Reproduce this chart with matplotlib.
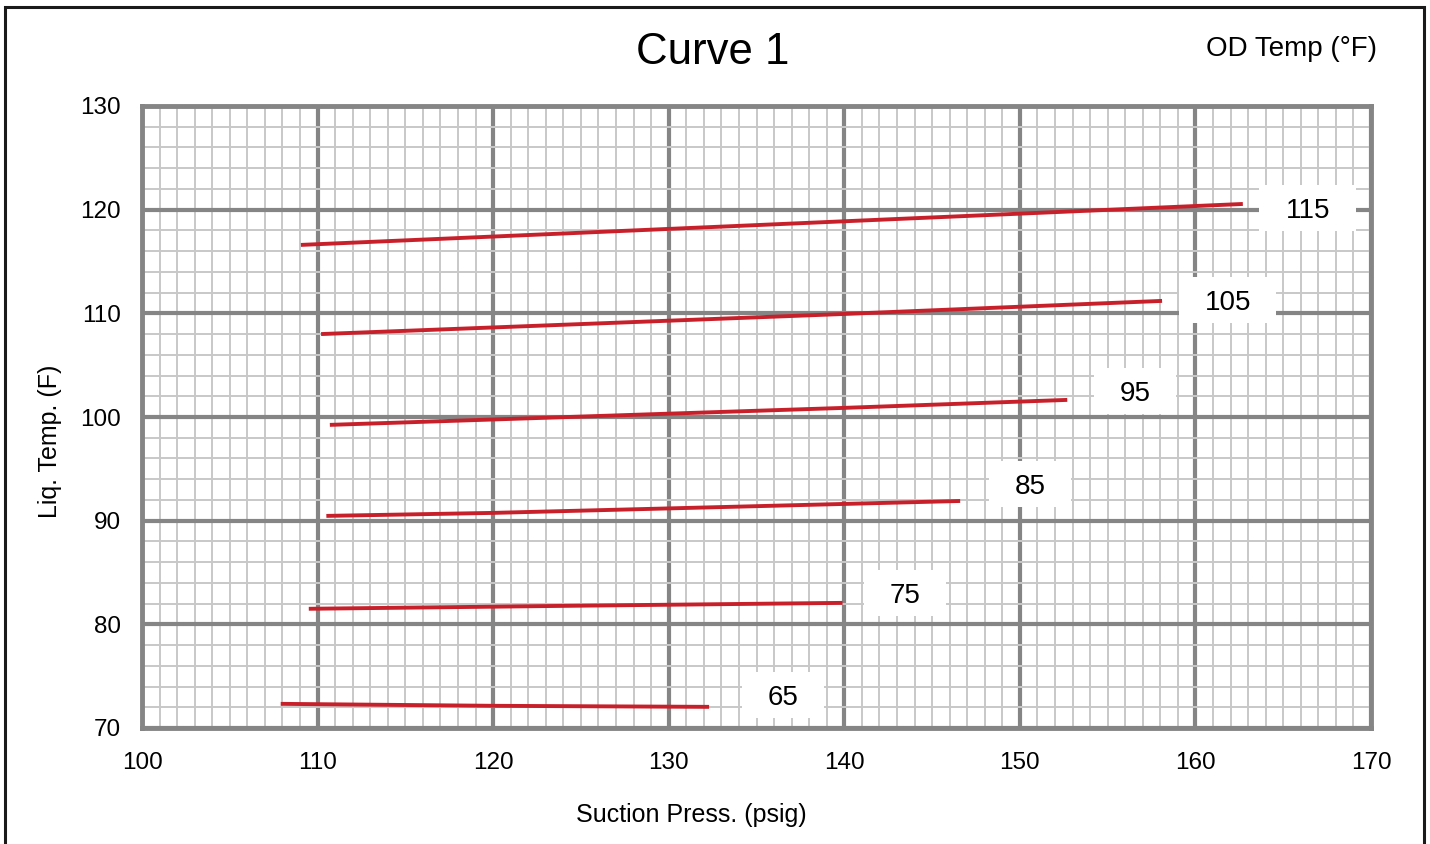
import matplotlib
matplotlib.use("Agg")
import matplotlib.pyplot as plt
from matplotlib.patches import Rectangle
from matplotlib.ticker import MultipleLocator

plt.rcParams['font.family'] = ['Liberation Sans', 'DejaVu Sans']

# OD temperature curves: suction pressure (psig) vs liquid temp (F)
od_temps = ["65", "75", "85", "95", "105", "115"]
press_65 = [107.9, 120.0, 132.3]
liq_65 = [72.33, 72.14, 72.04]
press_75 = [109.5, 125.0, 139.9]
liq_75 = [81.5, 81.8, 82.07]
press_85 = [110.5, 120.0, 146.6]
liq_85 = [90.46, 90.75, 91.9]
press_95 = [110.7, 140.0, 152.7]
liq_95 = [99.24, 100.88, 101.65]
press_105 = [110.2, 140.0, 158.1]
liq_105 = [108.0, 109.94, 111.2]
press_115 = [109.05, 140.0, 162.7]
liq_115 = [116.6, 118.88, 120.55]

# label anchor positions (data coords)
label_x = [136.5, 143.45, 150.6, 156.55, 161.85, 166.4]
label_y = [73.2, 83.0, 93.5, 102.5, 111.25, 120.15]

series = [(press_65, liq_65), (press_75, liq_75), (press_85, liq_85),
          (press_95, liq_95), (press_105, liq_105), (press_115, liq_115)]

W, H = 1430, 844
fig = plt.figure(figsize=(W / 100, H / 100), dpi=100)
ax_l, ax_r, ax_t, ax_b = 142, 1371, 106, 728
ax = fig.add_axes([ax_l / W, 1 - ax_b / H, (ax_r - ax_l) / W, (ax_b - ax_t) / H])

ax.set_xlim(100, 170)
ax.set_ylim(70, 130)
ax.xaxis.set_major_locator(MultipleLocator(10))
ax.yaxis.set_major_locator(MultipleLocator(10))
ax.xaxis.set_minor_locator(MultipleLocator(1))
ax.yaxis.set_minor_locator(MultipleLocator(2))
ax.grid(which='minor', color='#c8c8c8', linewidth=1.4, zorder=0)
ax.grid(which='major', color='#858585', linewidth=3.0, zorder=1)
ax.set_axisbelow(True)
for s in ax.spines.values():
    s.set_color('#858585')
    s.set_linewidth(3.5)
ax.tick_params(which='both', length=0)
ax.tick_params(axis='x', pad=17, labelsize=17.5)
ax.tick_params(axis='y', pad=15, labelsize=17.5)

for (px, ly) in series:
    ax.plot(px, ly, color='#c8202a', linewidth=2.8, solid_capstyle='butt', zorder=3)

xs = (ax_r - ax_l) / 70.0
ys = (ax_b - ax_t) / 60.0
for t, lx, lyy in zip(od_temps, label_x, label_y):
    bw = (52 + 15 * len(t)) / xs
    bh = 46 / ys
    ax.add_patch(Rectangle((lx - bw / 2, lyy - bh / 2), bw, bh, facecolor='white',
                           edgecolor='none', zorder=4))
    ax.text(lx, lyy, t, fontsize=20, ha='center', va='center_baseline', zorder=5)

fig.text(691 / W, 1 - 815 / H, "Suction Press. (psig)", fontsize=18, ha='center', va='center')
fig.text(50 / W, 1 - 441 / H, "Liq. Temp. (F)", fontsize=18, ha='center', va='center',
         rotation=90)

fig.text(713 / W, 1 - 52 / H, "Curve 1", fontsize=31.5, ha='center', va='center')
fig.text(1291 / W, 1 - 49 / H, "OD Temp (°F)", fontsize=20, ha='center', va='center')

fig.patches.append(Rectangle((5 / W, -0.01), 1419 / W, 1 - 7 / H + 0.01,
                             transform=fig.transFigure, fill=False,
                             edgecolor='#1a1a1a', linewidth=2.2))

fig.savefig("out.png", dpi=100, facecolor='white')
